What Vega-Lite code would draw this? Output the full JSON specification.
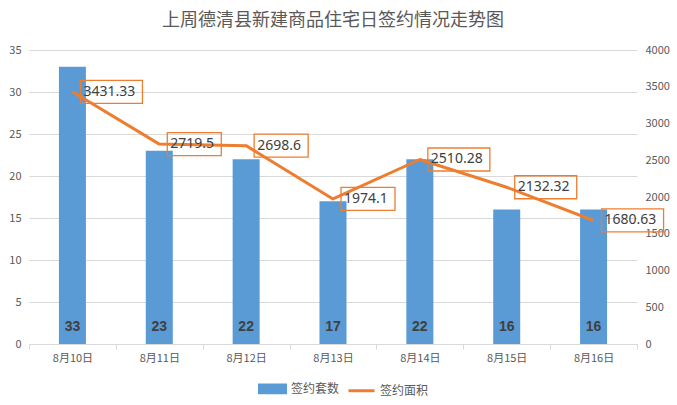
{
  "$schema": "https://vega.github.io/schema/vega-lite/v6.json",
  "width": 608,
  "height": 294,
  "autosize": {"type": "none"},
  "padding": {"left": 29, "top": 50, "right": 40, "bottom": 61},
  "background": "white",
  "title": {"text": "上周德清县新建商品住宅日签约情况走势图", "fontSize": 18, "fontWeight": "normal", "color": "#595959", "font": "Noto Sans CJK SC", "offset": 14, "anchor": "middle"},
  "config": {
    "view": {"stroke": null},
    "font": "Noto Sans CJK SC",
    "axis": {"labelFont": "Noto Sans CJK SC", "labelColor": "#595959", "labelFontSize": 11, "title": null}
  },
  "data": {"values": [
    {"date": "8月10日", "count": 33, "area": 3431.33},
    {"date": "8月11日", "count": 23, "area": 2719.5},
    {"date": "8月12日", "count": 22, "area": 2698.6},
    {"date": "8月13日", "count": 17, "area": 1974.1},
    {"date": "8月14日", "count": 22, "area": 2510.28},
    {"date": "8月15日", "count": 16, "area": 2132.32},
    {"date": "8月16日", "count": 16, "area": 1680.63}
  ]},
  "encoding": {
    "x": {"field": "date", "type": "nominal", "sort": null,
      "scale": {"type": "band", "paddingInner": 0, "paddingOuter": 0},
      "axis": {"labelAngle": 0, "domainColor": "#d9d9d9", "tickColor": "#d9d9d9", "tickSize": 5, "tickBand": "extent", "labelPadding": 3, "grid": false}}
  },
  "layer": [
    {
      "mark": {"type": "bar", "size": 27, "color": "#5B9BD5"},
      "encoding": {
        "y": {"field": "count", "type": "quantitative", "scale": {"domain": [0, 35], "nice": false},
          "axis": {"orient": "left", "values": [0, 5, 10, 15, 20, 25, 30, 35], "grid": true, "gridColor": "#d9d9d9", "domain": false, "ticks": false, "labelPadding": 8}},
        "color": {"datum": "签约套数", "type": "nominal",
          "scale": {"domain": ["签约套数", "签约面积"], "range": ["#5B9BD5", "#ED7D31"]},
          "legend": {"title": null, "orient": "none", "legendX": 229, "legendY": 324, "direction": "horizontal",
            "labelFontSize": 12, "labelColor": "#595959", "labelFont": "Noto Sans CJK SC", "symbolSize": 676, "labelOffset": 4, "columnPadding": 2,
            "symbolType": "M-1,-0.3H1V0.3H-1Z",
            "encode": {"symbols": {"update": {
              "shape": {"signal": "datum.value === '签约套数' ? 'M-1,-0.3H1V0.3H-1Z' : 'M-1,0H1'"},
              "fill": {"signal": "datum.value === '签约套数' ? '#5B9BD5' : 'transparent'"},
              "stroke": {"signal": "datum.value === '签约套数' ? 'transparent' : '#ED7D31'"},
              "strokeWidth": {"value": 3},
              "opacity": {"value": 1}
            }}}}
        }
      }
    },
    {
      "mark": {"type": "text", "fontSize": 14, "fontWeight": "bold", "color": "#404040", "dy": -17, "baseline": "middle", "font": "Liberation Sans"},
      "encoding": {
        "y": {"datum": 0, "type": "quantitative", "scale": {"domain": [0, 35], "nice": false}, "axis": null},
        "text": {"field": "count", "type": "quantitative"}
      }
    },
    {
      "mark": {"type": "line", "color": "#ED7D31", "strokeWidth": 3, "strokeJoin": "round"},
      "encoding": {
        "y": {"field": "area", "type": "quantitative", "scale": {"domain": [0, 4000], "nice": false},
          "axis": {"orient": "right", "values": [0, 500, 1000, 1500, 2000, 2500, 3000, 3500, 4000], "format": "d", "grid": false, "domain": false, "ticks": false, "labelPadding": 8}},
        "color": {"datum": "签约面积", "type": "nominal"}
      }
    },
    {
      "transform": [{"filter": "length(toString(datum.area)) == 7"}],
      "mark": {"type": "rect", "fill": null, "fillOpacity": 0, "stroke": "#ED7D31", "strokeWidth": 1.3, "width": 62, "xOffset": 39, "yOffset": -11.5, "y2Offset": 11.5},
      "encoding": {
        "y": {"field": "area", "type": "quantitative", "scale": {"domain": [0, 4000], "nice": false}, "axis": null},
        "y2": {"field": "area"}
      }
    },
    {
      "transform": [{"filter": "length(toString(datum.area)) != 7"}],
      "mark": {"type": "rect", "fill": null, "fillOpacity": 0, "stroke": "#ED7D31", "strokeWidth": 1.3, "width": 54, "xOffset": 35, "yOffset": -11.5, "y2Offset": 11.5},
      "encoding": {
        "y": {"field": "area", "type": "quantitative", "scale": {"domain": [0, 4000], "nice": false}, "axis": null},
        "y2": {"field": "area"}
      }
    },
    {
      "mark": {"type": "text", "fontSize": 14, "color": "#404040", "align": "left", "baseline": "middle", "dx": 11, "font": "Noto Sans"},
      "encoding": {
        "y": {"field": "area", "type": "quantitative", "scale": {"domain": [0, 4000], "nice": false}, "axis": null},
        "text": {"field": "area", "type": "quantitative", "format": "~g"}
      }
    }
  ],
  "resolve": {"scale": {"y": "independent"}, "axis": {"y": "independent"}}
}
